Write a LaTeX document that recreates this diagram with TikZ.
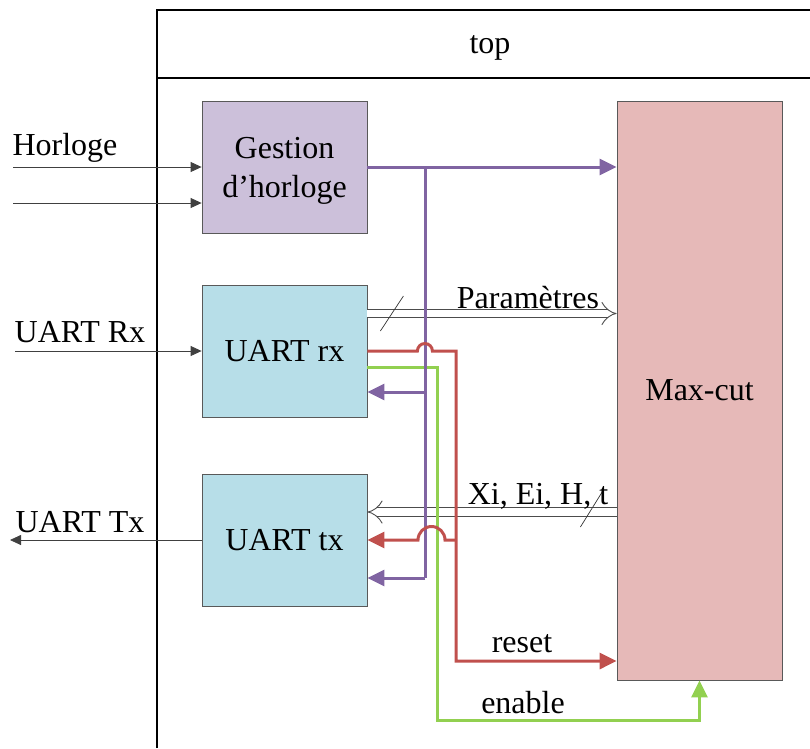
\documentclass[tikz,border=0pt]{standalone}
\usepackage{fontspec}
\setmainfont{Liberation Serif}
\usepackage{xcolor}
\usepackage{tikz}
\usetikzlibrary{arrows.meta,positioning,calc}
\definecolor{clkfill}{HTML}{CCC0DA}
\definecolor{uartfill}{HTML}{B7DEE8}
\definecolor{mcfill}{HTML}{E6B9B8}
\definecolor{purp}{HTML}{8064A2}
\definecolor{rouge}{HTML}{C0504D}
\definecolor{vert}{HTML}{92D050}
\tikzset{
  blk/.style={draw=black!65,line width=0.8pt,minimum width=165pt,align=center,inner sep=0pt},
  frm/.style={line width=2pt,draw=black},
  ioarr/.style={-{Triangle[length=11pt,width=10pt]},line width=0.8pt,draw=black!75},
  sigarr/.style={-{Triangle[length=17pt,width=16pt]},line width=3pt},
  sigline/.style={line width=3pt},
  busarr/.style={double=white,double distance=7.5pt,line width=0.9pt,draw=black!70,-{Implies[scale=1.4]}},
  slash/.style={line width=0.7pt,draw=black!80}
}

\begin{document}
\begin{tikzpicture}[x=1pt,y=-1pt,font=\fontsize{32}{39}\selectfont]
  \useasboundingbox (0,0) rectangle (810,748);
  \draw[frm] (157,748) -- (157,10) -- (810,10);
  \draw[frm] (157,78) -- (810,78);
  \node (ltop) at (490,48) {top};

  \node[blk,fill=clkfill,minimum height=132pt,text depth=0pt] (clk) at (284.5,167) {Gestion\\d'horloge};
  \node[blk,fill=uartfill,minimum height=132pt] (rx) at (284.5,351) {UART rx};
  \node[blk,fill=uartfill,minimum height=132pt] (tx) at (284.5,540) {UART tx};
  \node[blk,fill=mcfill,minimum height=579pt] (mc) at (699.5,390.5) {Max-cut};

  \coordinate (hin1) at (13,167);
  \coordinate (hin2) at (13,203);
  \coordinate (rxin) at (15,351);
  \coordinate (txout) at (10,540);
  \node (lhor) at (65,148) {Horloge};
  \node (lrx) at (80,332) {UART Rx};
  \node (ltx) at (80,522) {UART Tx};
  \draw[ioarr] (hin1) -- (hin1 -| clk.west);
  \draw[ioarr] (hin2) -- (hin2 -| clk.west);
  \draw[ioarr] (rxin) -- (rx.west);
  \draw[ioarr] (tx.west) -- (txout);

  \coordinate (pa) at ($(rx.east)+(0,-37.5)$);
  \coordinate (xa) at ($(tx.east)+(0,-28)$);
  \draw[busarr] (pa) -- (pa -| mc.west);
  \draw[busarr] (xa -| mc.west) -- (xa);
  \draw[slash] ($(pa)+(13,17.5)$) -- ++(23,-35);
  \draw[slash] ($(xa)+(213,15)$) -- ++(23,-37);
  \node (lpar) at (528,298) {Paramètres};
  \node (lxi) at (538,496) {Xi, Ei, H, t};

  \coordinate (gd) at (437,720);
  \draw[sigarr,vert] ($(rx.east)+(0,16)$) -| (gd) -| (mc.south);
  \node (len) at (523,703) {enable};

  \coordinate (pb) at (425,167);
  \coordinate (pr) at ($(rx.east)+(0,41)$);
  \coordinate (pt) at ($(tx.east)+(0,38)$);
  \draw[sigarr,purp] (clk.east) -- (clk.east -| mc.west);
  \draw[sigline,purp] (pb) -- (pt -| pb);
  \draw[sigarr,purp] (pr -| pb) -- (pr);
  \draw[sigarr,purp] (pt -| pb) -- (pt);

  \coordinate (rd) at (456,661);
  \draw[sigarr,rouge] (rx.east) -- ++(50,0) arc[start angle=180,end angle=0,radius=7.5pt]
    -- (rd |- rx.east) -- (rd) -- (rd -| mc.west);
  \draw[sigarr,rouge] (rd |- tx.east) -- ++(-11,0) arc[start angle=0,end angle=180,radius=13.5pt]
    -- (tx.east);
  \node (lres) at (522,644) {reset};
\end{tikzpicture}
\end{document}
